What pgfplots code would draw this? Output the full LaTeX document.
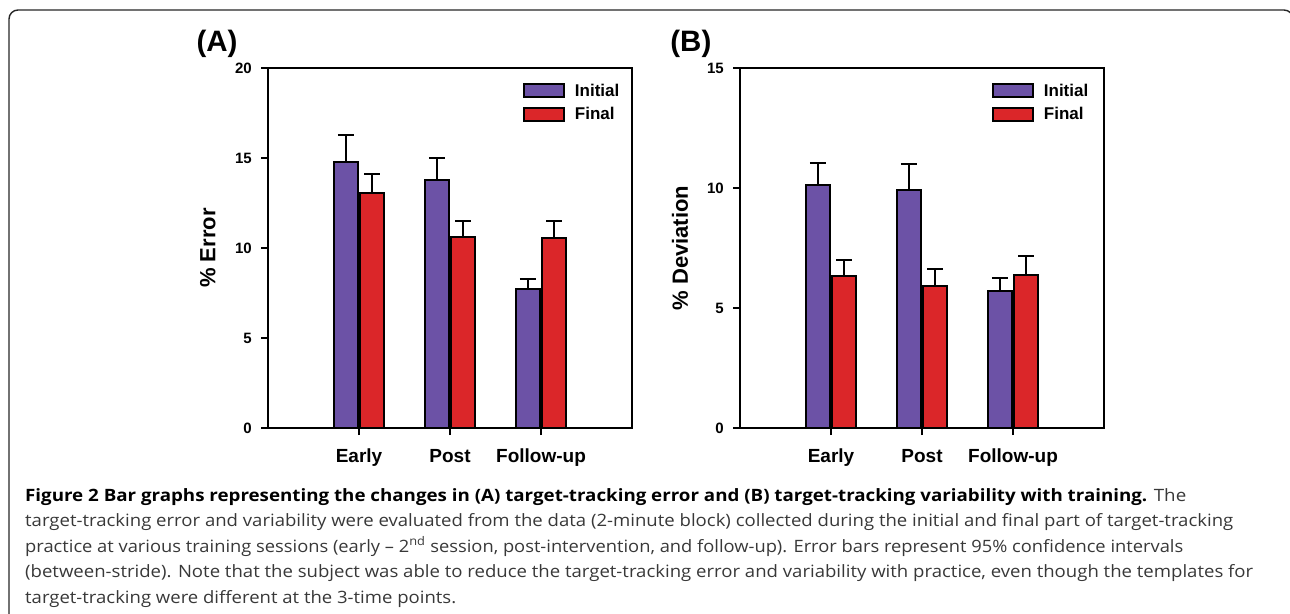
\documentclass[border=0pt]{standalone}
\usepackage{pgfplots}
\pgfplotsset{compat=1.18}
\usepackage{pgfplotstable}
\usepackage{graphicx}
\usepackage{fontspec}
\setmainfont{Liberation Sans}
\newfontfamily\capfont{Open Sans}

\definecolor{iniC}{RGB}{108,82,166}
\definecolor{finC}{RGB}{219,38,41}

% x  y  err   (0 = Early, 1 = Post, 2 = Follow-up)
\pgfplotstableread{
x y e
0 14.80 1.48
1 13.78 1.24
2 7.74 0.56
}\AInitial
\pgfplotstableread{
x y e
0 13.07 1.04
1 10.61 0.89
2 10.54 0.96
}\AFinal
\pgfplotstableread{
x y e
0 10.11 0.93
1 9.93 1.05
2 5.69 0.56
}\BInitial
\pgfplotstableread{
x y e
0 6.32 0.66
1 5.93 0.69
2 6.39 0.79
}\BFinal

\pgfplotsset{
  panel/.style={
    scale only axis, width=364bp, height=360bp,
    xmin=-1, xmax=3, ymin=0,
    clip=false,
    /pgf/number format/assume math mode=true,
    xtick={0,1,2}, xticklabels={Early,Post,Follow-up},
    tick align=outside, tick pos=left, major tick length=7bp,
    axis line style={line width=2.2bp},
    every tick/.style={black, line width=2bp},
    xticklabel style={font=\fontsize{19bp}{22bp}\selectfont\bfseries, anchor=base, inner sep=0pt, yshift=-27bp},
    yticklabel style={font=\fontsize{15bp}{18bp}\selectfont\bfseries, anchor=east, inner sep=0pt, xshift=-9bp},
    every axis y label/.style={at={(axis description cs:-0.165,0.5)}, rotate=90, anchor=center, font=\fontsize{22bp}{26bp}\selectfont\bfseries},
    legend image code/.code={\draw[#1, line width=1.8bp] (0bp,-6.5bp) rectangle (40bp,6.5bp);},
    legend style={draw=none, fill=none, inner sep=0pt, row sep=9bp, column sep=10bp,
      nodes={inner sep=0pt, anchor=west}, font=\fontsize{17bp}{20bp}\selectfont\bfseries},
  },
  barI/.style={ybar, bar width=0.27, bar shift=0, fill=iniC, draw=black, line width=2bp,
    error bars/.cd, y dir=plus, y explicit,
    error bar style={line width=2bp, black},
    error mark options={rotate=90, mark size=8bp, line width=2bp, black}},
  barF/.style={ybar, bar width=0.27, bar shift=0, fill=finC, draw=black, line width=2bp,
    error bars/.cd, y dir=plus, y explicit,
    error bar style={line width=2bp, black},
    error mark options={rotate=90, mark size=8bp, line width=2bp, black}},
}

\begin{document}
\begin{tikzpicture}
\useasboundingbox (0,0) rectangle (1290bp,-614bp);
\begin{scope}
  \clip (0,0) rectangle (1290bp,-614bp);
  \draw[line width=1.4bp, black!85, rounded corners=9bp] (9bp,-700bp) -- (9bp,-10bp) -- (1293bp,-10bp) -- (1293bp,-700bp);
\end{scope}

% Panel A
\begin{axis}[panel, at={(268bp,-428bp)}, anchor=south west,
  ymax=20, ytick={0,5,10,15,20}, ylabel={\% Error},
  legend style={at={(axis description cs:0.7005,0.958)}, anchor=north west}]
  \addplot[barI] table[x expr=\thisrow{x}-0.145, y=y, y error=e] {\AInitial};
  \addplot[barF] table[x expr=\thisrow{x}+0.145, y=y, y error=e] {\AFinal};
  \legend{Initial, Final}
  \node[font=\fontsize{29.5bp}{34bp}\selectfont\bfseries] at (axis description cs:-0.14,1.067) {(A)};
\end{axis}

% Panel B
\begin{axis}[panel, at={(740bp,-428bp)}, anchor=south west,
  ymax=15, ytick={0,5,10,15}, ylabel={\% Deviation},
  legend style={at={(axis description cs:0.692,0.958)}, anchor=north west}]
  \addplot[barI] table[x expr=\thisrow{x}-0.145, y=y, y error=e] {\BInitial};
  \addplot[barF] table[x expr=\thisrow{x}+0.145, y=y, y error=e] {\BFinal};
  \legend{Initial, Final}
  \node[font=\fontsize{29.5bp}{34bp}\selectfont\bfseries] at (axis description cs:-0.135,1.067) {(B)};
\end{axis}

% Caption
\begin{scope}[every node/.style={anchor=base west, inner sep=0pt, font=\capfont\fontsize{17bp}{20bp}\selectfont, text=black!78}]
\node at (25bp,-501bp) {\resizebox{1161bp}{\height}{{\color{black}\bfseries Figure 2 Bar graphs representing the changes in (A) target-tracking error and (B) target-tracking variability with training.} The}};
\node at (25bp,-526.5bp) {\resizebox{1208bp}{\height}{target-tracking error and variability were evaluated from the data (2-minute block) collected during the initial and final part of target-tracking}};
\node at (25bp,-552bp) {\resizebox{1158bp}{\height}{practice at various training sessions (early – 2\textsuperscript{nd} session, post-intervention, and follow-up). Error bars represent 95\% confidence intervals}};
\node at (25bp,-577.5bp) {\resizebox{1228bp}{\height}{(between-stride). Note that the subject was able to reduce the target-tracking error and variability with practice, even though the templates for}};
\node at (25bp,-603bp) {\resizebox{431bp}{\height}{target-tracking were different at the 3-time points.}};
\end{scope}
\end{tikzpicture}
\end{document}
